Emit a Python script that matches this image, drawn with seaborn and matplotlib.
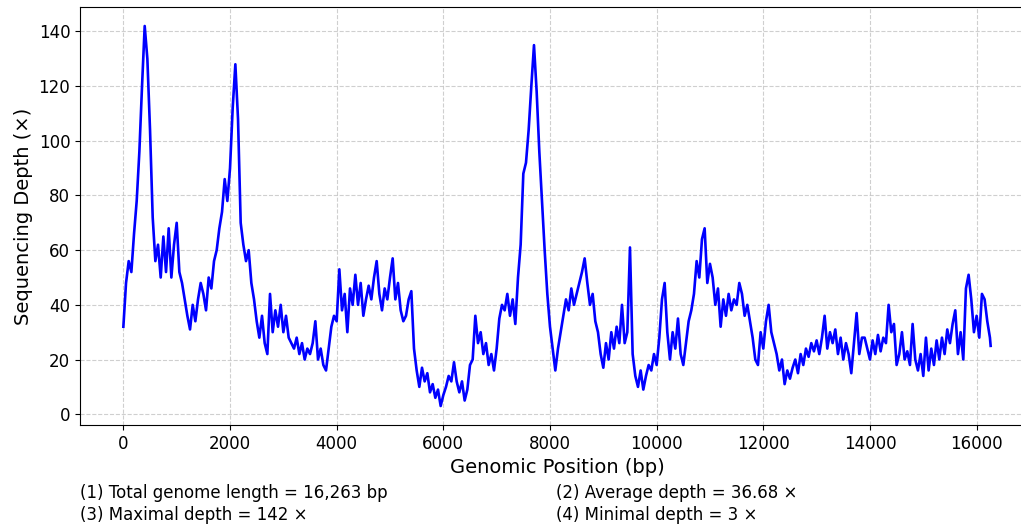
import numpy as np
import pandas as pd
import matplotlib
matplotlib.use("Agg")
import matplotlib.pyplot as plt
import seaborn as sns

# Genomic positions (bp) sampled every 50 bp, plus the final base
positions = list(range(0, 16251, 50)) + [16263]

depth = [
    # 0 - 950
    32, 48, 56, 52, 66, 78, 96, 120, 142, 130, 104, 72, 56, 62, 50, 65, 52, 68, 50, 62,
    # 1000 - 1950
    70, 52, 48, 42, 36, 31, 40, 34, 42, 48, 44, 38, 50, 46, 56, 60, 68, 74, 86, 78,
    # 2000 - 2950
    90, 112, 128, 108, 70, 62, 56, 60, 48, 42, 34, 28, 36, 26, 22, 44, 30, 38, 32, 40,
    # 3000 - 3950
    30, 36, 28, 26, 24, 28, 22, 26, 20, 24, 22, 26, 34, 20, 24, 18, 16, 24, 32, 36,
    # 4000 - 4950
    34, 53, 38, 44, 30, 46, 40, 51, 40, 48, 36, 42, 47, 42, 50, 56, 44, 38, 46, 42,
    # 5000 - 5950
    50, 57, 42, 48, 38, 34, 36, 42, 45, 24, 16, 10, 17, 12, 15, 8, 11, 6, 9, 3,
    # 6000 - 6950
    7, 10, 14, 12, 19, 12, 8, 12, 5, 9, 18, 20, 36, 26, 30, 22, 26, 18, 22, 16,
    # 7000 - 7950
    24, 35, 40, 38, 44, 36, 42, 33, 50, 62, 88, 92, 104, 120, 135, 118, 96, 78, 60, 44,
    # 8000 - 8950
    32, 24, 16, 24, 30, 36, 42, 38, 46, 40, 44, 48, 52, 57, 48, 40, 44, 34, 30, 22,
    # 9000 - 9950
    17, 26, 20, 30, 24, 32, 26, 40, 26, 30, 61, 22, 14, 10, 16, 9, 14, 18, 16, 22,
    # 10000 - 10950
    18, 28, 42, 48, 30, 20, 30, 24, 35, 22, 18, 26, 34, 38, 44, 56, 50, 64, 68, 48,
    # 11000 - 11950
    55, 50, 40, 46, 32, 42, 36, 44, 38, 42, 40, 48, 44, 36, 40, 34, 28, 20, 18, 30,
    # 12000 - 12950
    24, 34, 40, 30, 26, 22, 16, 20, 11, 16, 13, 17, 20, 15, 22, 18, 24, 21, 26, 23,
    # 13000 - 13950
    27, 22, 28, 36, 24, 30, 26, 31, 22, 28, 20, 26, 22, 15, 26, 37, 22, 28, 28, 24,
    # 14000 - 14950
    20, 27, 22, 29, 23, 28, 26, 40, 30, 33, 18, 22, 30, 20, 23, 18, 33, 20, 16, 22,
    # 15000 - 15950
    14, 28, 16, 24, 18, 27, 20, 28, 22, 31, 26, 33, 38, 22, 30, 20, 46, 51, 42, 30,
    # 16000 - 16263
    36, 28, 44, 42, 34, 28, 25,
]

footnotes = [
    "(1) Total genome length = 16,263 bp",
    "(2) Average depth = 36.68 \u00d7",
    "(3) Maximal depth = 142 \u00d7",
    "(4) Minimal depth = 3 \u00d7",
]

df = pd.DataFrame({"pos": positions, "depth": depth})

plt.rcParams["font.family"] = ["DejaVu Sans"]
fig = plt.figure(figsize=(10.21, 5.25), dpi=100)
ax = fig.add_axes([80 / 1021, 1 - 425 / 525, (1034 - 80) / 1021, (425 - 7) / 525])

sns.lineplot(data=df, x="pos", y="depth", color="blue", linewidth=1.9,
             estimator=None, sort=False, ax=ax)

ax.set_xticks(range(0, 16001, 2000))
ax.set_yticks(range(0, 141, 20))
ax.tick_params(labelsize=12)
ax.grid(True, linestyle="--", color="#c4c4c4", linewidth=0.8, alpha=0.8)
ax.set_axisbelow(True)
ax.set_xlabel("Genomic Position (bp)", fontsize=14)
ax.set_ylabel("Sequencing Depth (\u00d7)", fontsize=14)

fig.text(80 / 1021, 1 - 493 / 525, footnotes[0], fontsize=12, va="center", ha="left")
fig.text(556 / 1021, 1 - 493 / 525, footnotes[1], fontsize=12, va="center", ha="left")
fig.text(80 / 1021, 1 - 515 / 525, footnotes[2], fontsize=12, va="center", ha="left")
fig.text(556 / 1021, 1 - 515 / 525, footnotes[3], fontsize=12, va="center", ha="left")

fig.savefig("out.png", dpi=100)
